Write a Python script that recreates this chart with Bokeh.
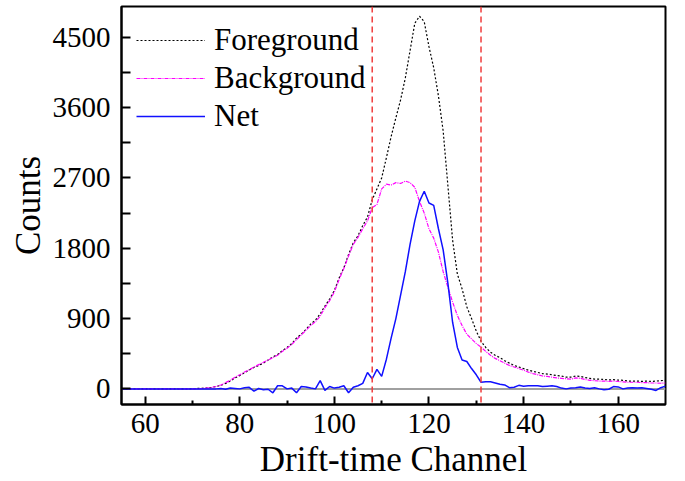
from bokeh.plotting import figure
from bokeh.models import FixedTicker, Span, Range1d
from bokeh.embed import file_html
from bokeh.resources import INLINE

channels = list(range(55, 171))

foreground = [0]*15 + [
    2, 5, 8, 12, 20, 30, 45, 70, 100, 140,            # 70-79
    170, 205, 240, 275, 300, 330, 370, 410, 440, 490, # 80-89
    530, 580, 650, 700, 760, 830, 880, 960, 1060, 1150, # 90-99
    1260, 1420, 1550, 1720, 1870, 1960, 2090, 2200, 2420, 2560, # 100-109
    2700, 2960, 3230, 3470, 3700, 3980, 4330, 4680, 4770, 4700, # 110-119
    4380, 4110, 3750, 3300, 2600, 1900, 1470, 1280, 1050, 900,  # 120-129
    740, 610, 530, 470, 430, 400, 360, 330, 300, 280,  # 130-139
    260, 240, 225, 210, 195, 190, 180, 170, 165, 150,  # 140-149
    150, 165, 160, 145, 135, 125, 125, 120, 115, 118,  # 150-159
    112, 110, 100, 100, 100, 95, 100, 95, 100, 105,    # 160-169
    110]                                               # 170

background = [0]*17 + [
    5, 10, 18, 30, 50, 80, 110, 150,                   # 72-79
    180, 215, 245, 280, 310, 340, 370, 400, 430, 480,  # 80-89
    520, 570, 630, 690, 750, 810, 860, 930, 1040, 1130, # 90-99
    1240, 1400, 1540, 1700, 1850, 1940, 2050, 2150, 2320, 2360, # 100-109
    2560, 2620, 2610, 2640, 2630, 2660, 2640, 2580, 2400, 2250, # 110-119
    2050, 1930, 1750, 1500, 1300, 1110, 940, 810, 700, 640,     # 120-129
    580, 535, 480, 430, 390, 360, 330, 300, 280, 260,  # 130-139
    240, 215, 195, 180, 165, 160, 150, 140, 135, 130,  # 140-149
    125, 140, 135, 120, 110, 105, 100, 100, 95, 100,   # 150-159
    95, 90, 85, 85, 85, 80, 80, 75, 75, 72,            # 160-169
    75]                                                # 170

net = [0]*21 + [
    5, -5, 10, 5,                                      # 76-79
    0, 15, 20, -30, 5, -10, -5, -50, 40, 40,           # 80-89
    0, 10, -50, 30, 25, 10, 0, 105, -20, 30,           # 90-99
    10, 20, 40, -50, 20, 40, 70, 210, 130, 250,        # 100-109
    160, 380, 650, 900, 1200, 1500, 1850, 2150, 2400, 2530, # 110-119
    2380, 2350, 2050, 1780, 1350, 850, 530, 370, 350, 260,  # 120-129
    180, 85, 90, 90, 75, 60, 50, 15, 20, 45,           # 130-139
    35, 40, 40, 40, 30, 35, 40, 30, 10, 0,             # 140-149
    10, 15, 25, 10, 5, 15, 0, -10, -5, 30,             # 150-159
    25, 0, 10, 15, 10, 15, 5, -5, -20, 15,             # 160-169
    35]                                                # 170

window_edges = [108, 131]
x_major = [60, 80, 100, 120, 140, 160]
x_minor = [70, 90, 110, 130, 150]
y_major = [0, 900, 1800, 2700, 3600, 4500]
y_minor = [450, 1350, 2250, 3150, 4050]

FONT = "Liberation Serif"

p = figure(width=685, height=481, output_backend="svg", toolbar_location=None,
           x_range=Range1d(55, 170), y_range=Range1d(-200, 4895),
           min_border_left=121, min_border_right=20, min_border_top=6,
           min_border_bottom=77)

p.xgrid.visible = False
p.ygrid.visible = False
p.outline_line_color = "black"
p.outline_line_width = 2
p.background_fill_color = "white"
p.border_fill_color = "white"

zero = Span(location=0, dimension="width", line_color="#a0a0a0", line_width=2,
            level="underlay")
p.add_layout(zero)

p.line(channels, foreground, line_color="black", line_width=1.2,
       line_dash="2 2", legend_label="Foreground")
p.line(channels, background, line_color="#ff00ff", line_width=1.2,
       line_dash="4 1 1 1", legend_label="Background")
p.line(channels, net, line_color="#1010ff", line_width=1.5, legend_label="Net")

for xe in window_edges:
    p.add_layout(Span(location=xe, dimension="height", line_color="#f03c3c",
                      line_width=1.5, line_dash="6 4"))

xa = p.xaxis[0]
xa.ticker = FixedTicker(ticks=x_major, minor_ticks=x_minor)
xa.axis_label = "Drift-time Channel"
ya = p.yaxis[0]
ya.ticker = FixedTicker(ticks=y_major, minor_ticks=y_minor)
ya.axis_label = "Counts"

for ax in (xa, ya):
    ax.axis_line_color = "black"
    ax.axis_line_width = 2
    ax.major_tick_out = 0
    ax.minor_tick_out = 0
    ax.major_tick_line_color = "black"
    ax.minor_tick_line_color = "black"
    ax.major_tick_line_width = 2
    ax.minor_tick_line_width = 2
    ax.major_label_text_font = FONT
    ax.major_label_text_font_size = "29px"
    ax.major_label_text_color = "black"
    ax.axis_label_text_font = FONT
    ax.axis_label_text_font_style = "normal"
    ax.axis_label_text_font_size = "35px"
    ax.axis_label_text_color = "black"

xa.major_tick_in = 8
xa.minor_tick_in = 4
xa.major_label_standoff = 9
xa.axis_label_standoff = 4
ya.major_tick_in = 9
ya.minor_tick_in = 9
ya.major_label_standoff = 11
ya.axis_label_standoff = 2

lg = p.legend[0]
lg.location = "top_left"
lg.margin = 15
lg.padding = 0
lg.spacing = 0
lg.border_line_color = None
lg.background_fill_alpha = 0
lg.label_text_font = FONT
lg.label_text_font_size = "31px"
lg.label_text_color = "black"
lg.glyph_width = 69
lg.glyph_height = 38
lg.label_height = 38
lg.label_standoff = 9

open("out.html", "w").write(file_html(p, INLINE))
